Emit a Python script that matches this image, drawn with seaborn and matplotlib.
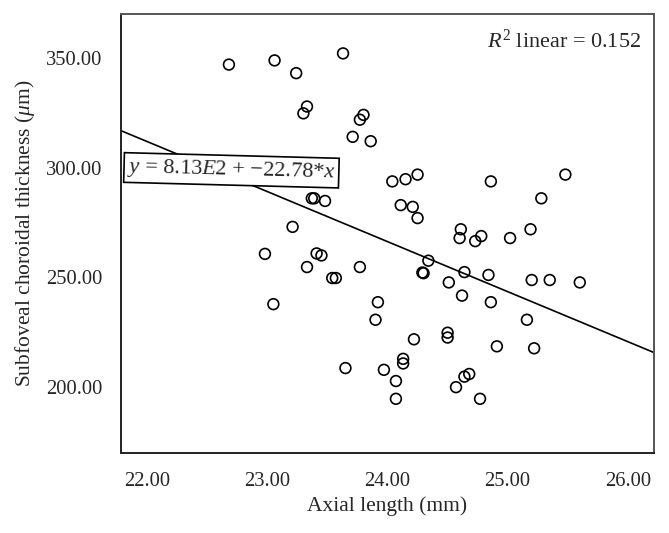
import matplotlib
matplotlib.use("Agg")
import matplotlib.pyplot as plt
import seaborn as sns
import numpy as np
import pandas as pd

axial_length = [22.68, 23.06, 23.24, 23.63, 23.33, 23.30, 23.80, 23.77, 23.71, 23.86,
                24.04, 24.15, 24.25, 24.86, 25.48, 25.28, 23.37, 23.39, 23.48, 24.11,
                24.21, 24.25, 23.21, 24.61, 24.60, 24.73, 24.78, 25.02, 25.19, 22.98,
                23.41, 23.45, 23.33, 23.77, 23.54, 23.57, 24.34, 24.29, 24.30, 24.64,
                24.84, 24.51, 25.20, 25.35, 25.60, 24.62, 23.05, 23.92, 24.86, 23.90,
                25.16, 24.50, 24.50, 24.22, 24.91, 25.22, 24.13, 24.13, 23.65, 23.97,
                24.07, 24.64, 24.68, 24.57, 24.07, 24.77]
thickness = [346.9, 348.8, 343.0, 352.0, 327.8, 324.7, 324.0, 321.8, 314.0, 312.0,
             293.7, 294.7, 296.8, 293.7, 296.8, 286.0, 286.0, 286.0, 284.8, 282.9,
             282.1, 277.0, 273.0, 271.9, 267.9, 266.5, 268.8, 267.9, 271.9, 260.7,
             260.9, 260.0, 254.7, 254.7, 249.7, 249.7, 257.6, 252.2, 251.9, 252.4,
             251.1, 247.7, 248.8, 248.8, 247.7, 241.7, 237.8, 238.7, 238.7, 230.7,
             230.7, 224.8, 222.6, 221.8, 218.6, 217.7, 212.9, 210.8, 208.7, 207.9,
             202.8, 204.8, 206.0, 200.0, 194.7, 194.7]

intercept = 813.0
slope = -22.78
r_squared = 0.152
x_ticks = [22.0, 23.0, 24.0, 25.0, 26.0]
y_ticks = [200.0, 250.0, 300.0, 350.0]
x_limits = [21.78, 26.22]
y_limits = [170.0, 370.0]

sns.set_style("white")
plt.rcParams['font.family'] = ['Liberation Serif', 'DejaVu Serif']
plt.rcParams['mathtext.fontset'] = 'custom'
plt.rcParams['mathtext.rm'] = 'Liberation Serif'
plt.rcParams['mathtext.it'] = 'Liberation Serif:italic'
plt.rcParams['mathtext.bf'] = 'Liberation Serif:bold'

fig = plt.figure(figsize=(6.69, 5.33), dpi=100)
ax = fig.add_axes([0.1805, 0.150, 0.7975, 0.824])

df = pd.DataFrame({"x": axial_length, "y": thickness})
sns.scatterplot(data=df, x="x", y="y", ax=ax, s=60, facecolor="none",
                edgecolor="black", linewidth=1.2, legend=False)

fit = pd.DataFrame({"x": x_limits, "y": [intercept + slope * v for v in x_limits]})
sns.lineplot(data=fit, x="x", y="y", ax=ax, color="black", linewidth=1.2)

ax.set_xlim(*x_limits)
ax.set_ylim(*y_limits)
ax.set_xticks(x_ticks)
ax.set_yticks(y_ticks)
ax.set_xticklabels([f"{v:.2f}" for v in x_ticks], fontsize=14.8)
ax.set_yticklabels([f"{v:.2f}" for v in y_ticks], fontsize=14.8)
ax.tick_params(axis='both', direction='out', length=7.5, width=1.2, color='#333333', pad=6)
ax.set_xlabel("Axial length (mm)", fontsize=15.5, labelpad=4)
ax.set_ylabel(r"Subfoveal choroidal thickness ($\mu$m)", fontsize=15.5, labelpad=6)

for side in ["left", "bottom"]:
    ax.spines[side].set_color("#222222")
    ax.spines[side].set_linewidth(1.4)
for side in ["top", "right"]:
    ax.spines[side].set_color("#555555")
    ax.spines[side].set_linewidth(1.4)
ax.spines["top"].set_visible(True)
ax.spines["right"].set_visible(True)

ax.text(0.975, 0.965, rf"$R^2$ linear = {r_squared:.3f}", transform=ax.transAxes,
        ha="right", va="top", fontsize=16)

ax.text(21.835, 300.0, r"$y$ = 8.13$E$2 + $-$22.78*$x$", ha="left", va="center",
        fontsize=16, rotation=-1.5, rotation_mode="anchor",
        bbox=dict(boxstyle="square,pad=0.15", facecolor="white", edgecolor="black", linewidth=1.2))

fig.savefig("out.png", dpi=100)
